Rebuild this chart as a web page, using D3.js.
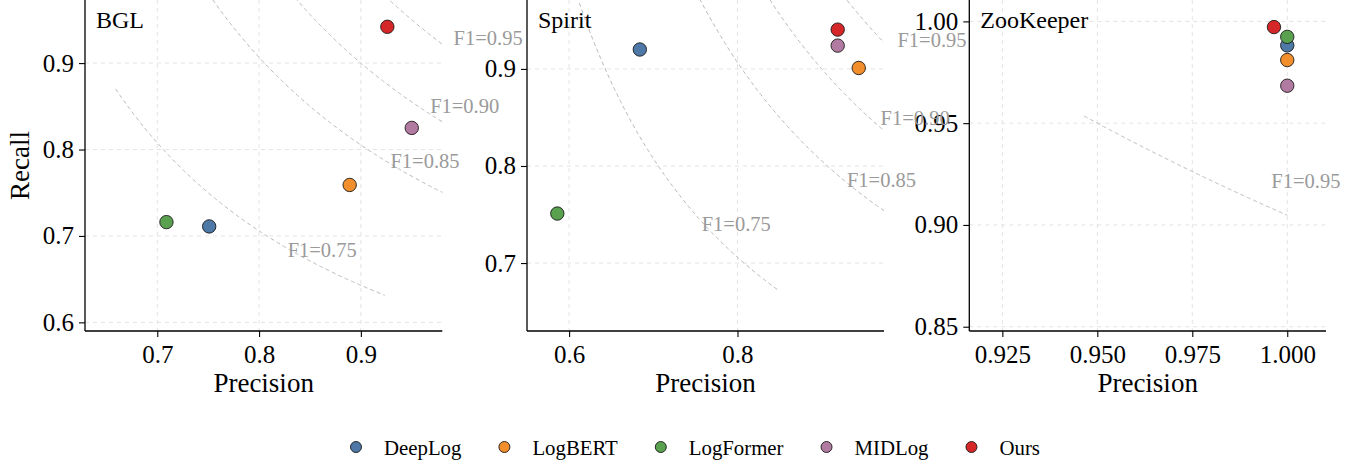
<!DOCTYPE html>
<html><head><meta charset="utf-8">
<script src="https://cdn.jsdelivr.net/npm/d3@7"></script>
<style>
html,body{margin:0;padding:0;background:#fff;}
svg{display:block;font-family:"Liberation Serif","Times New Roman",serif;}
</style></head>
<body><svg id="c" width="1364" height="465"></svg>
<script>
// ---- data ----
const panels = ["BGL", "Spirit", "ZooKeeper"];
const methods = ["DeepLog", "LogBERT", "LogFormer", "MIDLog", "Ours"];
const colors = ["#4E79A7", "#F28E2B", "#59A14F", "#B07AA1", "#D62728"];
const precisionBGL = [0.751, 0.889, 0.709, 0.950, 0.926];
const recallBGL    = [0.711, 0.759, 0.716, 0.825, 0.942];
const precisionSpirit = [0.684, 0.944, 0.586, 0.919, 0.919];
const recallSpirit    = [0.920, 0.901, 0.751, 0.924, 0.9405];
const precisionZoo = [1.000, 1.000, 1.000, 1.000, 0.9965];
const recallZoo    = [0.9882, 0.981, 0.9924, 0.9684, 0.9972];
const f1Levels = [0.75, 0.85, 0.90, 0.95];
const xTicks = [[0.7, 0.8, 0.9], [0.6, 0.8], [0.925, 0.950, 0.975, 1.000]];
const yTicks = [[0.6, 0.7, 0.8, 0.9], [0.7, 0.8, 0.9], [0.85, 0.90, 0.95, 1.00]];
const xFormats = [".1f", ".1f", ".3f"];
const yFormats = [".1f", ".1f", ".2f"];
// iso-F1 curve extents per panel (precision range, minimum recall)
const curvePStart = [0.659, 0.536, 0.9465];
const curvePEnd   = [0.998, 0.994, 1.000];
const curveRMin   = [0.631, 0.671, 0.888];
// F1 label anchors per panel (precision, recall), one per level (null = none)
const labelP = [[0.862, 0.963, 1.002, 1.025], [0.7985, 0.971, 1.011, 1.031], [null, null, null, 1.0049]];
const labelR = [[0.684, 0.787, 0.8506, 0.9293], [0.7405, 0.786, 0.8498, 0.9302], [null, null, null, 0.9216]];

// ---- layout config ----
const xDomains = [[0.629, 0.980], [0.550, 0.974], [0.9163, 1.0102]];
const yDomains = [[0.590, 0.973], [0.630, 0.971], [0.8479, 1.0105]];
const pxLeft = [85, 527, 969.3], pxRight = [442.3, 884, 1326];
const pxTop = 0, pxBottom = 331;

const svg = d3.select("#c");
const series = [[precisionBGL, recallBGL], [precisionSpirit, recallSpirit], [precisionZoo, recallZoo]];
const labelLayer = [];

panels.forEach((name, i) => {
  const x = d3.scaleLinear().domain(xDomains[i]).range([pxLeft[i], pxRight[i]]);
  const y = d3.scaleLinear().domain(yDomains[i]).range([pxBottom, pxTop]);
  const g = svg.append("g");
  const clipId = "clip" + i;
  svg.append("clipPath").attr("id", clipId).append("rect")
    .attr("x", pxLeft[i]).attr("y", pxTop).attr("width", pxRight[i] - pxLeft[i]).attr("height", pxBottom - pxTop);

  // grid
  g.selectAll(".gx").data(xTicks[i]).join("line")
    .attr("x1", d => x(d)).attr("x2", d => x(d)).attr("y1", pxTop).attr("y2", pxBottom)
    .attr("stroke", "#e3e3e3").attr("stroke-width", 1).attr("stroke-dasharray", "4,4");
  g.selectAll(".gy").data(yTicks[i]).join("line")
    .attr("y1", d => y(d)).attr("y2", d => y(d)).attr("x1", pxLeft[i]).attr("x2", pxRight[i])
    .attr("stroke", "#e3e3e3").attr("stroke-width", 1).attr("stroke-dasharray", "4,4");

  // iso-F1 curves
  const curveG = g.append("g").attr("clip-path", `url(#${clipId})`);
  f1Levels.forEach(F => {
    const pts = [];
    const n = 300;
    for (let k = 0; k <= n; k++) {
      const p = curvePStart[i] + (curvePEnd[i] - curvePStart[i]) * k / n;
      const r = F * p / (2 * p - F);
      if (r >= curveRMin[i] && r > 0) pts.push([p, r]);
    }
    if (pts.length > 1) {
      curveG.append("path").datum(pts)
        .attr("d", d3.line().x(d => x(d[0])).y(d => y(d[1])))
        .attr("fill", "none").attr("stroke", "#b8b8b8").attr("stroke-width", 1)
        .attr("stroke-dasharray", "4,3");
    }
  });

  // axes
  const xa = d3.axisBottom(x).tickValues(xTicks[i]).tickFormat(d3.format(xFormats[i])).tickSize(6).tickPadding(5);
  const ya = d3.axisLeft(y).tickValues(yTicks[i]).tickFormat(d3.format(yFormats[i])).tickSize(6).tickPadding(5);
  const gx = g.append("g").attr("transform", `translate(0,${pxBottom})`).call(xa);
  const gy = g.append("g").attr("transform", `translate(${pxLeft[i]},0)`).call(ya);
  [gx, gy].forEach(a => {
    a.select(".domain").attr("stroke", "#000").attr("stroke-width", 1.3)
      .attr("d", a === gx ? `M${pxLeft[i]},0H${pxRight[i]}` : `M0,${pxTop}V${pxBottom}`);
    a.selectAll(".tick line").attr("stroke", "#000").attr("stroke-width", 1.1);
    a.selectAll(".tick text").attr("fill", "#000").attr("font-size", 25)
      .attr("font-family", "Liberation Serif");
  });
  gx.selectAll(".tick text").attr("dy", "0.85em");

  // axis title
  g.append("text").attr("x", (pxLeft[i] + pxRight[i]) / 2).attr("y", 392)
    .attr("text-anchor", "middle").attr("font-size", 27).text("Precision");

  // panel title
  g.append("text").attr("x", pxLeft[i] + 11).attr("y", 28)
    .attr("font-size", 24).text(name);

  // points
  const [P, R] = series[i];
  g.selectAll(".pt").data(methods.map((m, k) => ({ m, k, p: P[k], r: R[k] }))).join("circle")
    .attr("cx", d => x(d.p)).attr("cy", d => y(d.r)).attr("r", 6.7)
    .attr("fill", d => colors[d.k]).attr("stroke", "#1a1a1a").attr("stroke-width", 0.9);

  // F1 labels (drawn later, unclipped)
  f1Levels.forEach((F, k) => {
    if (labelP[i][k] != null) labelLayer.push({ x: x(labelP[i][k]), y: y(labelR[i][k]), t: "F1=" + F.toFixed(2) });
  });
});

svg.append("g").selectAll("text").data(labelLayer).join("text")
  .attr("x", d => d.x).attr("y", d => d.y).attr("text-anchor", "middle")
  .attr("dominant-baseline", "central").attr("font-size", 20.5).attr("fill", "#9a9a9a").text(d => d.t);

// y title
svg.append("text").attr("transform", "translate(29,165.5) rotate(-90)")
  .attr("text-anchor", "middle").attr("font-size", 27).text("Recall");

// legend
const lg = svg.append("g");
let lx = 356;
methods.forEach((m, k) => {
  lg.append("circle").attr("cx", lx).attr("cy", 447).attr("r", 5.5)
    .attr("fill", colors[k]).attr("stroke", "#1a1a1a").attr("stroke-width", 0.9);
  const t = lg.append("text").attr("x", lx + 28).attr("y", 447).attr("dominant-baseline", "central")
    .attr("font-size", 20.8).text(m);
  lx += 28 + t.node().getComputedTextLength() + 43;
});
</script></body></html>
